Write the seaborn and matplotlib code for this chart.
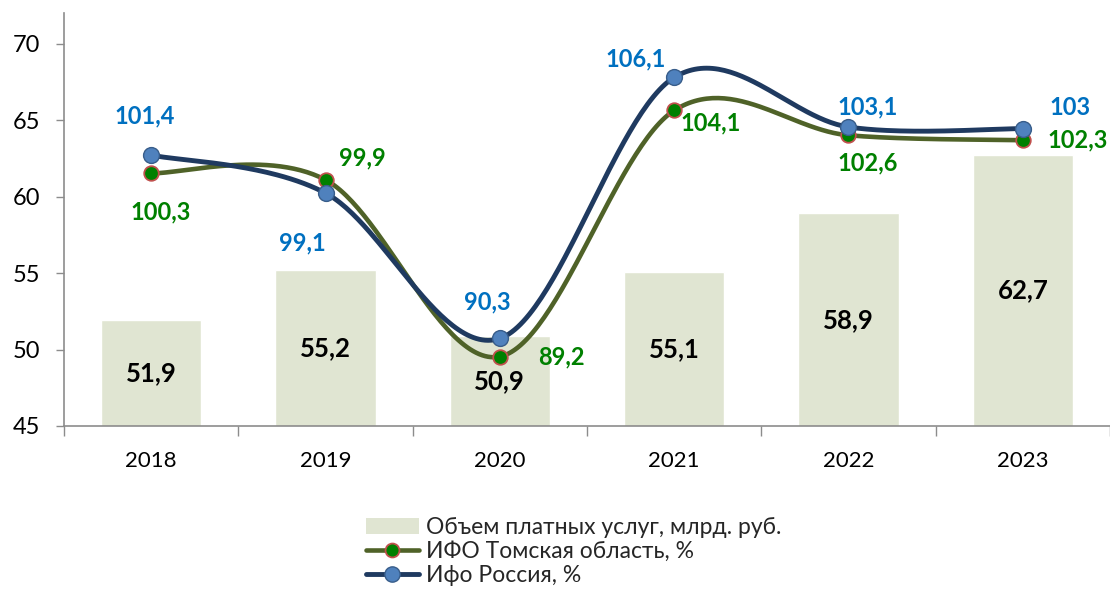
import numpy as np
import pandas as pd
import matplotlib
matplotlib.use('Agg')
import matplotlib.pyplot as plt
import seaborn as sns
from matplotlib.lines import Line2D
from matplotlib.patches import Patch

# ---- data ----
years = ['2018', '2019', '2020', '2021', '2022', '2023']
volume = [51.9, 55.2, 50.9, 55.1, 58.9, 62.7]
tomsk = [100.3, 99.9, 89.2, 104.1, 102.6, 102.3]
russia = [101.4, 99.1, 90.3, 106.1, 103.1, 103.0]
volume_labels = ['51,9', '55,2', '50,9', '55,1', '58,9', '62,7']
tomsk_labels = ['100,3', '99,9', '89,2', '104,1', '102,6', '102,3']
russia_labels = ['101,4', '99,1', '90,3', '106,1', '103,1', '103']
legend_names = ['Объем платных услуг, млрд. руб.', 'ИФО Томская область, %', 'Ифо Россия, %']

# ---- style ----
sns.set_theme(style='white')
plt.rcParams['font.family'] = ['Lato', 'DejaVu Sans']

C_BAR = '#E0E5D2'
C_TOMSK = '#4F6228'
C_RUS = '#1F3A60'
C_RUS_MK = '#4F81BD'
C_GREEN = '#008000'
C_BLUE = '#0070C0'
C_AXIS = '#8C8C8C'


def smooth(xs, ys, n=60):
    """Catmull-Rom (Excel-like) smoothing of a polyline for rendering."""
    xs = np.asarray(xs, float)
    ys = np.asarray(ys, float)
    P = np.column_stack([xs, ys])
    P = np.vstack([P[0], P, P[-1]])
    out = []
    t = np.linspace(0, 1, n)
    for i in range(1, len(P) - 2):
        p0, p1, p2, p3 = P[i - 1], P[i], P[i + 1], P[i + 2]
        c1 = p1 + (p2 - p0) / 6.0
        c2 = p2 - (p3 - p1) / 6.0
        seg = ((1 - t)[:, None] ** 3 * p1 + 3 * (1 - t)[:, None] ** 2 * t[:, None] * c1
               + 3 * (1 - t)[:, None] * t[:, None] ** 2 * c2 + t[:, None] ** 3 * p2)
        out.append(seg if i == 1 else seg[1:])
    s = np.vstack(out)
    return s[:, 0], s[:, 1]


fig = plt.figure(figsize=(11.1, 5.94), dpi=100)
ax = fig.add_axes([64 / 1110, 1 - 426 / 594, 1 - 64 / 1110, (426 - 13) / 594])

df = pd.DataFrame({'year': years, 'volume': volume})
sns.barplot(data=df, x='year', y='volume', color=C_BAR, saturation=1,
            width=0.575, ax=ax, zorder=1)
ax.set_ylim(45, 72)
ax.set_xlim(-0.5, 5.5)
ax.set_xlabel('')
ax.set_ylabel('')
ax.set_yticks([45, 50, 55, 60, 65, 70])
ax.tick_params(axis='y', which='major', direction='out', length=6, width=1,
               color=C_AXIS, labelsize=17, pad=11, labelcolor='black', left=True)
ax.set_xticks(range(len(years)))
ax.set_xticklabels(years)
ax.tick_params(axis='x', which='major', length=0, labelsize=16, pad=18, labelcolor='black')
ax.set_xticks(np.arange(-0.5, 6.0, 1.0), minor=True)
ax.tick_params(axis='x', which='minor', direction='out', length=7, width=1,
               color=C_AXIS, bottom=True)
for s in ['top', 'right']:
    ax.spines[s].set_visible(False)
for s in ['left', 'bottom']:
    ax.spines[s].set_color(C_AXIS)
    ax.spines[s].set_linewidth(1.2)
ax.grid(False)

for i, (v, lab) in enumerate(zip(volume, volume_labels)):
    ax.text(i, (45 + v) / 2, lab, ha='center', va='center', fontsize=18.5,
            fontweight='bold', color='black', zorder=2)

# ---- secondary axis (hidden) ----
ax2 = ax.twinx()
ax2.set_ylim(85, 110)
ax2.set_yticks([])
for s in ax2.spines.values():
    s.set_visible(False)
ax2.grid(False)

xpos = np.arange(len(years))
sx, sy = smooth(xpos, tomsk)
ax2.plot(sx, sy, color=C_TOMSK, lw=3.3, solid_capstyle='round', zorder=3)
sx, sy = smooth(xpos, russia)
ax2.plot(sx, sy, color=C_RUS, lw=3.5, solid_capstyle='round', zorder=4)

pts = pd.DataFrame({'x': xpos, 'tomsk': tomsk, 'russia': russia})
sns.scatterplot(data=pts, x='x', y='tomsk', ax=ax2, color=C_GREEN, edgecolor='#C0504D',
                linewidth=1.3, s=110, zorder=5, legend=False)
sns.scatterplot(data=pts, x='x', y='russia', ax=ax2, color=C_RUS_MK, edgecolor='#385D8A',
                linewidth=1.0, s=130, zorder=6, legend=False)
ax2.set_xlabel('')
ax2.set_ylabel('')
ax.set_xlim(-0.5, 5.5)

rus_off = [(-6, 39), (-23, -50), (-13, 37), (-38, 19), (19, 20), (47, 21)]
tom_off = [(10, -39), (37, 22), (62, 0), (37, -12), (19, -28), (55, 0)]
for i in range(len(years)):
    ax2.annotate(russia_labels[i], (xpos[i], russia[i]), xytext=rus_off[i],
                 textcoords='offset pixels', ha='center', va='center',
                 fontsize=17, fontweight='bold', color=C_BLUE, zorder=7)
    ax2.annotate(tomsk_labels[i], (xpos[i], tomsk[i]), xytext=tom_off[i],
                 textcoords='offset pixels', ha='center', va='center',
                 fontsize=17, fontweight='bold', color=C_GREEN, zorder=7)

# ---- legend ----
handles = [
    Patch(facecolor=C_BAR, edgecolor='none'),
    Line2D([0], [0], color=C_TOMSK, lw=3.3, marker='o', markersize=10,
           markerfacecolor=C_GREEN, markeredgecolor='#C0504D', markeredgewidth=1.3),
    Line2D([0], [0], color=C_RUS, lw=3.5, marker='o', markersize=11,
           markerfacecolor=C_RUS_MK, markeredgecolor='#385D8A', markeredgewidth=1.0),
]
fig.legend(handles, legend_names, loc='upper left', bbox_to_anchor=(366 / 1110, 1 - 517 / 594),
           frameon=False, fontsize=16.5, handlelength=2.3, handleheight=0.65,
           handletextpad=0.3, labelspacing=0.12, borderpad=0, borderaxespad=0)

fig.savefig('out.png', dpi=100)
